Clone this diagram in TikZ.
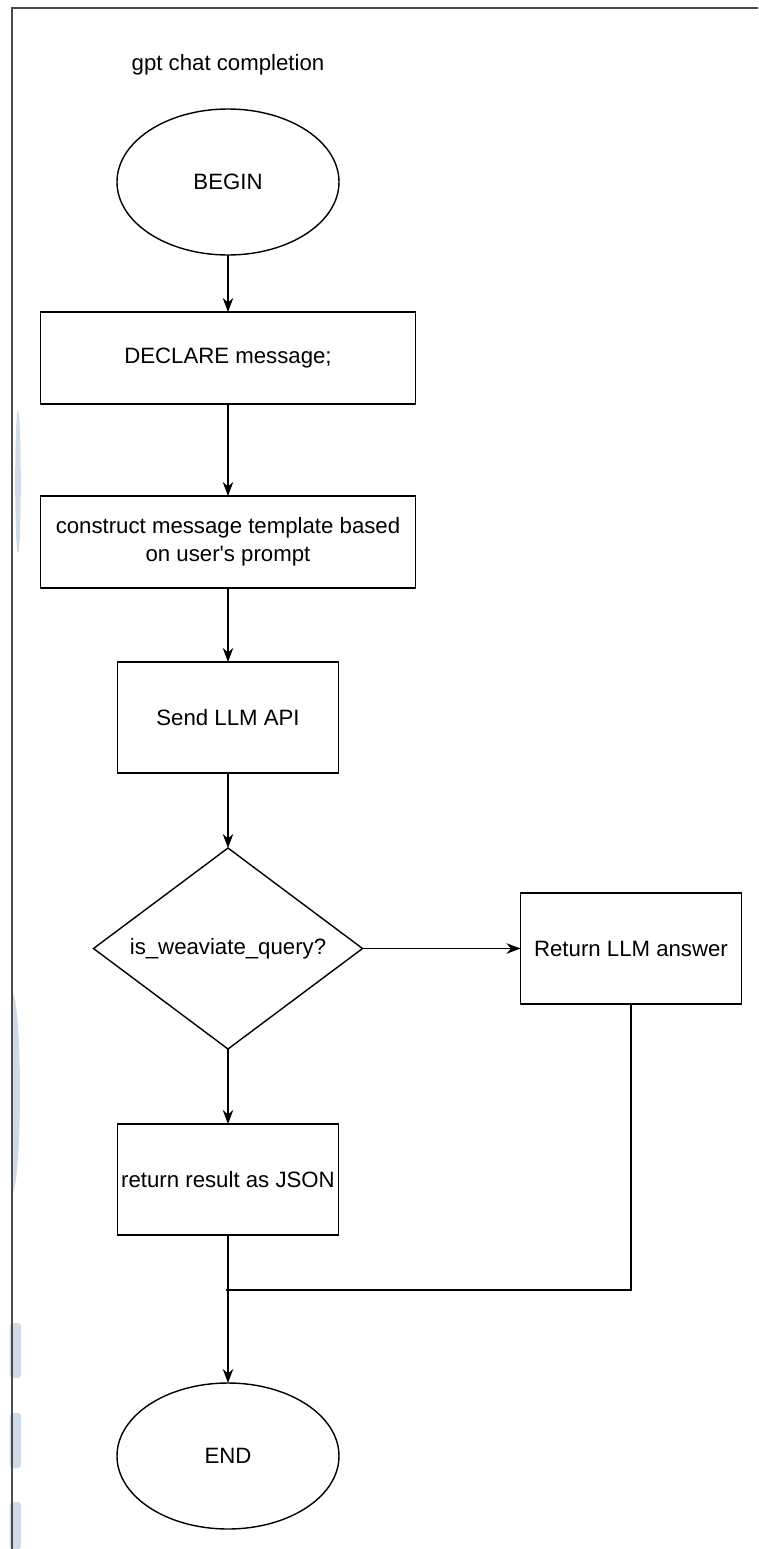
\documentclass[tikz,border=0pt]{standalone}
\usepackage{fontspec}
\setmainfont{Liberation Sans}
\usetikzlibrary{shapes.geometric,arrows.meta,calc,positioning}
\definecolor{ghostblue}{HTML}{CFDBE6}
\tikzset{
  terminal/.style={ellipse, draw, line width=1pt, minimum width=5.55cm,
  minimum height=3.65cm, text centered, outer sep=0pt},
  widebox/.style={rectangle, draw, line width=1pt, minimum width=9.375cm,
  minimum height=2.3cm, align=center, outer sep=0pt},
  box/.style={rectangle, draw, line width=1pt, minimum width=5.525cm,
  minimum height=2.775cm, align=center, inner sep=1pt, outer sep=0pt},
  decision/.style={diamond, draw, line width=1pt, aspect=1.34,
  minimum width=6.725cm, minimum height=5.025cm, inner sep=0pt, outer sep=0pt},
  flow/.style={draw, line width=1pt, -{Stealth[length=10pt,width=7.5pt]}},
  link/.style={draw, line width=1pt},
  frame/.style={draw=black!70, line width=1pt},
  ghost/.style={fill=ghostblue, draw=none}
}
\begin{document}
\begin{tikzpicture}[font=\fontsize{15.8}{19.9}\selectfont]
\useasboundingbox (-5.7,4.55) rectangle (13.25,-34.175);
\fill[ghost] (-5.25,-7.49) ellipse[x radius=0.07, y radius=1.79];
\fill[ghost] (-5.4,-20.25) arc[start angle=90, end angle=-90,
  x radius=0.2, y radius=2.51];
\fill[ghost, rounded corners=2pt] (-5.45,-28.525) rectangle (-5.175,-29.9);
\fill[ghost, rounded corners=2pt] (-5.45,-30.775) rectangle (-5.175,-32.15);
\fill[ghost, rounded corners=2pt] (-5.45,-33.0) rectangle (-5.175,-34.175);
\draw[frame] (-5.4,-34.175) -- (-5.4,4.35) -- (13.25,4.35);

\node[terminal] (begin) at (0,0) {BEGIN};
\node[inner sep=0pt] (title) [above=0.85cm of begin] {gpt chat completion};
\node[widebox] (declare) [below=1.425cm of begin] {DECLARE message;};
\node[widebox] (construct) [below=2.3cm of declare]
  {construct message template based\\on user\textquotesingle s prompt};
\node[box] (send) [below=1.85cm of construct] {Send LLM API};
\node[decision] (query) [below=1.875cm of send] {is\_weaviate\_query?};
\node[box] (answer) [right=3.95cm of query] {Return LLM answer};
\node[box] (json) [below=1.875cm of query] {return result as JSON};
\node[terminal] (end) [below=3.7cm of json] {END};
\coordinate (merge) at ($(json.south)+(-0.05,-1.375)$);

\draw[flow] (begin) -- (declare);
\draw[flow] (declare) -- (construct);
\draw[flow] (construct) -- (send);
\draw[flow] (send) -- (query);
\draw[flow] (query) -- (answer);
\draw[flow] (query) -- (json);
\draw[flow] (json) -- (end);
\draw[link] (answer.south) |- (merge);
\end{tikzpicture}
\end{document}
